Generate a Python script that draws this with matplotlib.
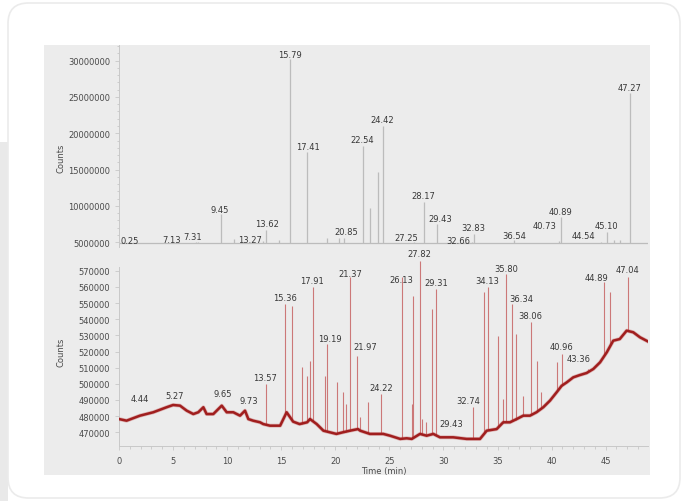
import numpy as np
import matplotlib
matplotlib.use("Agg")
import matplotlib.pyplot as plt
from matplotlib.patches import FancyBboxPatch, Rectangle
from matplotlib.ticker import MultipleLocator

# ---- upper chromatogram (TIC, counts) ----
top_t = [0.25, 7.13, 7.31, 9.45, 10.6, 13.27, 13.62, 14.8, 15.79, 17.41, 19.2,
         20.3, 20.85, 22.54, 23.2, 23.95, 24.42, 27.25, 28.17, 29.43, 32.66,
         32.83, 36.54, 40.73, 40.89, 44.54, 45.10, 45.8, 46.3, 47.27]
top_v = [5.05e6, 5.05e6, 5.1e6, 8.9e6, 5.5e6, 5.2e6, 6.73e6, 5.3e6, 30.2e6, 17.4e6, 5.6e6,
         5.6e6, 5.6e6, 18.3e6, 9.7e6, 14.7e6, 21.0e6, 5.1e6, 10.5e6, 7.5e6, 5.1e6,
         6.14e6, 5.3e6, 5.2e6, 8.5e6, 5.1e6, 6.46e6, 5.3e6, 5.3e6, 25.6e6]
top_base = 4.9e6

# labels: text, x (min), y (counts)
top_lab = ["0.25", "7.13", "7.31", "9.45", "13.27", "13.62", "15.79", "17.41", "20.85",
           "22.54", "24.42", "27.25", "28.17", "29.43", "32.66", "32.83", "36.54",
           "40.73", "40.89", "44.54", "45.10", "47.27"]
top_lab_x = [1.02, 4.87, 6.81, 9.34, 12.11, 13.66, 15.81, 17.48, 21.05, 22.47, 24.38,
             26.6, 28.11, 29.68, 31.35, 32.73, 36.52, 39.39, 40.84, 42.9, 45.1, 47.25]
top_lab_y = [5.22e6, 5.45e6, 5.73e6, 9.58e6, 5.45e6, 7.52e6, 30.9e6, 18.15e6, 6.46e6,
             19.2e6, 21.96e6, 5.6e6, 11.37e6, 8.34e6, 5.3e6, 6.97e6, 5.9e6, 7.28e6,
             9.17e6, 5.87e6, 7.28e6, 26.36e6]

# ---- lower chromatogram (extracted ion, counts) ----
base_t = [0.0, 0.7, 1.94, 3.17, 4.4, 5.0, 5.64, 6.26, 6.87, 7.33, 7.8, 8.1, 8.72, 9.5,
          9.96, 10.57, 11.19, 11.65, 11.96, 12.4, 13.04, 13.34, 13.96, 14.9, 15.5, 16.1,
          16.7, 17.4, 17.66, 18.28, 18.9, 19.5, 20.1, 20.7, 21.36, 22.1, 22.3, 23.2,
          24.44, 25.06, 26.0, 26.6, 27.07, 27.83, 28.45, 29.06, 29.68, 30.9, 32.15,
          32.76, 33.38, 34.0, 34.92, 35.53, 36.15, 36.77, 37.38, 38.0, 38.6, 39.23,
          39.85, 40.47, 40.93, 41.4, 42.0, 42.6, 43.24, 43.86, 44.48, 45.1, 45.7, 46.3,
          46.94, 47.55, 48.17, 48.94]
base_v = [478200, 477200, 480300, 482400, 485500, 486900, 486500, 483400, 481300, 482400,
          485500, 481300, 481300, 486500, 482400, 482400, 480300, 483400, 478200, 477200,
          476200, 475100, 474100, 474100, 482400, 476600, 475100, 476200, 478200, 475100,
          471000, 470000, 469000, 470000, 471000, 472000, 471000, 469000, 469000, 467900,
          465900, 466300, 465900, 469000, 467900, 469000, 466900, 466900, 465900, 465900,
          465900, 471000, 472000, 476200, 476200, 478200, 480300, 480300, 482400, 485500,
          489600, 494800, 498800, 500900, 504000, 505400, 506700, 509200, 513300, 519500,
          526700, 527700, 532900, 531900, 528800, 526100]

bot_t = [13.57, 15.36, 15.97, 16.9, 17.35, 17.66, 17.91, 19.05, 19.19, 20.2, 20.74,
         21.0, 21.37, 21.97, 22.3, 23.0, 24.22, 26.13, 27.06, 27.21, 27.82, 27.99,
         28.39, 28.91, 29.31, 32.74, 33.78, 34.13, 35.07, 35.48, 35.80, 36.34, 36.68,
         37.39, 38.06, 38.62, 39.02, 40.53, 40.96, 43.36, 44.89, 45.4, 47.04]
bot_v = [499900, 549400, 548300, 510200, 505000, 514300, 559700, 505000, 524600, 501000,
         494800, 487500, 565900, 517400, 479300, 488600, 493700, 565900, 487500, 554500,
         576200, 478200, 476200, 546300, 558700, 485500, 556600, 559700, 529400, 490600,
         568000, 549400, 530800, 492600, 538100, 514300, 494800, 513300, 518400, 509000,
         562800, 556600, 566000]

bot_lab = ["4.44", "5.27", "9.65", "9.73", "13.57", "15.36", "17.91", "19.19", "21.37",
           "21.97", "24.22", "26.13", "27.82", "29.31", "29.43", "32.74", "34.13", "35.80",
           "36.34", "38.06", "40.96", "43.36", "44.89", "47.04"]
bot_lab_x = [1.94, 5.18, 9.62, 11.96, 13.5, 15.35, 17.82, 19.51, 21.37, 22.75, 24.2,
             26.14, 27.77, 29.38, 30.76, 32.3, 34.09, 35.78, 37.24, 38.0, 40.93, 42.47,
             44.17, 47.0]
bot_lab_y = [491040, 492650, 494320, 489560, 504040, 553540, 563810, 528170, 568580,
             523210, 497840, 564250, 580950, 562820, 475570, 489560, 563810, 571670,
             552920, 542150, 522970, 515790, 565910, 570620]

W, H = 682, 502
fig = plt.figure(figsize=(W / 100, H / 100), dpi=100)
fig.patch.set_facecolor("white")


def px(x0, y0, x1, y1):
    return [x0 / W, 1 - y1 / H, (x1 - x0) / W, (y1 - y0) / H]


# page background strip, card and image panel behind the axes
fig.patches.append(Rectangle((0, 0), 8 / W, 1 - 143 / H, transform=fig.transFigure,
                             facecolor="#e9e9e9", edgecolor="none", zorder=-3))
fig.patches.append(FancyBboxPatch((8 / W, 3 / H), 672 / W, 495 / H,
                                  boxstyle="round,pad=0,rounding_size=0.03",
                                  transform=fig.transFigure, facecolor="white",
                                  edgecolor="#ebebeb", lw=1.2, zorder=-2,
                                  mutation_aspect=W / H))
fig.patches.append(Rectangle((44 / W, 1 - 476 / H), 606 / W, 430 / H,
                             transform=fig.transFigure, facecolor="#ececec",
                             edgecolor="none", zorder=-1))

XMAX = (648 - 119) / 10.815
txt = dict(fontsize=6, color="#383838", ha="center", va="center", clip_on=False)


def style(ax):
    ax.set_zorder(5)
    ax.set_facecolor("none")
    for s in ["top", "right", "bottom"]:
        ax.spines[s].set_visible(False)
    ax.spines["left"].set_color("#c8c8c8")
    ax.spines["left"].set_linewidth(0.7)
    ax.tick_params(axis="y", which="both", colors="#c8c8c8", labelcolor="#4a4a4a",
                   labelsize=6, length=3, width=0.6)
    ax.tick_params(axis="y", which="minor", length=1.8)
    ax.set_xlim(0, XMAX)


ax1 = fig.add_axes(px(119, 46, 648, 248))
style(ax1)
ax1.set_ylim(4.354e6, 32.14e6)
ax1.set_yticks(np.arange(5e6, 30.1e6, 5e6))
ax1.set_yticklabels(["%d" % v for v in np.arange(5e6, 30.1e6, 5e6)])
ax1.yaxis.set_minor_locator(MultipleLocator(1e6))
ax1.set_xticks([])
ax1.hlines(top_base, 0, XMAX, color="#bcbcbc", lw=0.9)
ax1.vlines(top_t, top_base, top_v, color="#bcbcbc", lw=0.9)
for s, x, y in zip(top_lab, top_lab_x, top_lab_y):
    ax1.text(x, y, s, **txt)
ax1.set_ylabel("Counts", fontsize=6, color="#4a4a4a")
ax1.yaxis.set_label_coords(-0.102, 0.446)

ax2 = fig.add_axes(px(119, 248, 648, 447.3))
style(ax2)
ax2.set_ylim(461340, 584670)
ax2.set_yticks(np.arange(470000, 570001, 10000))
ax2.set_yticklabels(["%d" % v for v in np.arange(470000, 570001, 10000)])
ax2.spines["bottom"].set_visible(True)
ax2.spines["bottom"].set_color("#c8c8c8")
ax2.spines["bottom"].set_linewidth(0.7)
ax2.spines["left"].set_bounds(461340, 572000)
ax2.set_xticks(np.arange(0, 46, 5))
ax2.xaxis.set_minor_locator(MultipleLocator(1))
ax2.tick_params(axis="x", which="both", colors="#c8c8c8", labelcolor="#4a4a4a",
                labelsize=6, length=3, width=0.6, pad=4)
ax2.tick_params(axis="x", which="minor", length=2)
ax2.set_xlabel("Time (min)", fontsize=6, color="#4a4a4a", labelpad=1)
ax2.set_ylabel("Counts", fontsize=6, color="#4a4a4a")
ax2.yaxis.set_label_coords(-0.102, 0.478)

peak_base = np.interp(bot_t, base_t, base_v)
ax2.vlines(bot_t, peak_base, bot_v, color="#cc7878", lw=0.8, zorder=3, clip_on=False)
ax2.plot(base_t, base_v, color="#c04848", lw=2.8, alpha=0.35, zorder=3)
ax2.plot(base_t, base_v, color="#a01e1e", lw=1.8, solid_capstyle="round", zorder=4)
for s, x, y in zip(bot_lab, bot_lab_x, bot_lab_y):
    ax2.text(x, y, s, **txt)

fig.savefig("out.png", dpi=100)
